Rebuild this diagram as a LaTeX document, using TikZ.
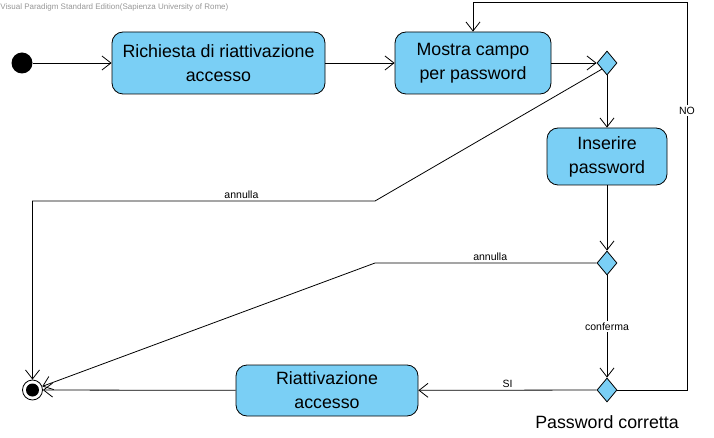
\documentclass[tikz,border=0pt]{standalone}
\usepackage{fontspec}
\setmainfont{Liberation Sans}
\usetikzlibrary{shapes.geometric, arrows.meta, positioning, calc}
\definecolor{vpblue}{RGB}{122, 207, 245}
\definecolor{vpgray}{RGB}{150, 150, 150}

\begin{document}
\begin{tikzpicture}[x=1pt, y=-1pt, line width=0.8pt,
  action/.style={rectangle, rounded corners=11pt, draw, fill=vpblue, align=center, inner sep=0pt, font=\fontsize{17.8}{24}\selectfont},
  decision/.style={diamond, draw, fill=vpblue, minimum width=20pt, minimum height=24pt, inner sep=0pt},
  flow/.style={-{Straight Barb[length=9pt, width=14pt]}},
  guard/.style={font=\fontsize{10.5}{12}\selectfont, inner sep=2pt}]
\useasboundingbox (0,0) rectangle (714,438);

% Watermark
\node[anchor=west, inner sep=0pt, text=vpgray, font=\fontsize{8}{9}\selectfont] (brand) at (0,7) {Visual Paradigm Standard Edition(Sapienza University of Rome)};

% Start and end
\node[circle, fill=black, minimum size=21pt, inner sep=0pt] (start) at (22,63) {};
\node[circle, draw, fill=white, minimum size=20pt, inner sep=0pt] (end) at (32.5,390) {};
\fill (end) circle (6.5pt);

% Actions
\node[action, minimum width=213pt, minimum height=62pt] (request) at (218.5,63) {Richiesta di riattivazione\\accesso};
\node[action, minimum width=156pt, minimum height=62pt] (show) at (473,63) {Mostra campo\\per password};
\node[action, minimum width=120pt, minimum height=57pt] (insert) at (607,156.5) {Inserire\\password};
\node[action, minimum width=182pt, minimum height=51pt] (reactivate) at (327,390.5) {Riattivazione\\accesso};

% Decisions
\node[decision] (d1) at (607,63) {};
\node[decision] (d2) at (607,263) {};
\node[decision] (d3) at (607,390) {};
\node[font=\fontsize{17.8}{24}\selectfont] (check) at (607,422) {Password corretta};

% Bends
\coordinate (noTop) at (687,2);
\coordinate (bend1) at (375,201);
\coordinate (cancel1) at (32.5,201);
\coordinate (bend2) at (375,263);

% Flows
\draw[flow] (start) -- (request);
\draw[flow] (request) -- (show);
\draw[flow] (show) -- (d1);
\draw[flow] (d1) -- (insert);
\draw[flow] (insert) -- (d2);
\draw[flow] (d2) -- node[guard, fill=white] {conferma} (d3);
\draw[flow] (d3) -- node[guard, above] {SI} (reactivate);
\draw[flow] (reactivate) -- (end);
\draw[flow] (d3) -| node[guard, fill=white, pos=0.86] {NO} (noTop) -| (show);
\draw[flow] (d1.south west) -- (bend1) -- node[guard, above, pos=0.39] {annulla} (cancel1) -- (end);
\draw[flow] (d2) -- node[guard, above, pos=0.48] {annulla} (bend2) -- (end);
\end{tikzpicture}
\end{document}
